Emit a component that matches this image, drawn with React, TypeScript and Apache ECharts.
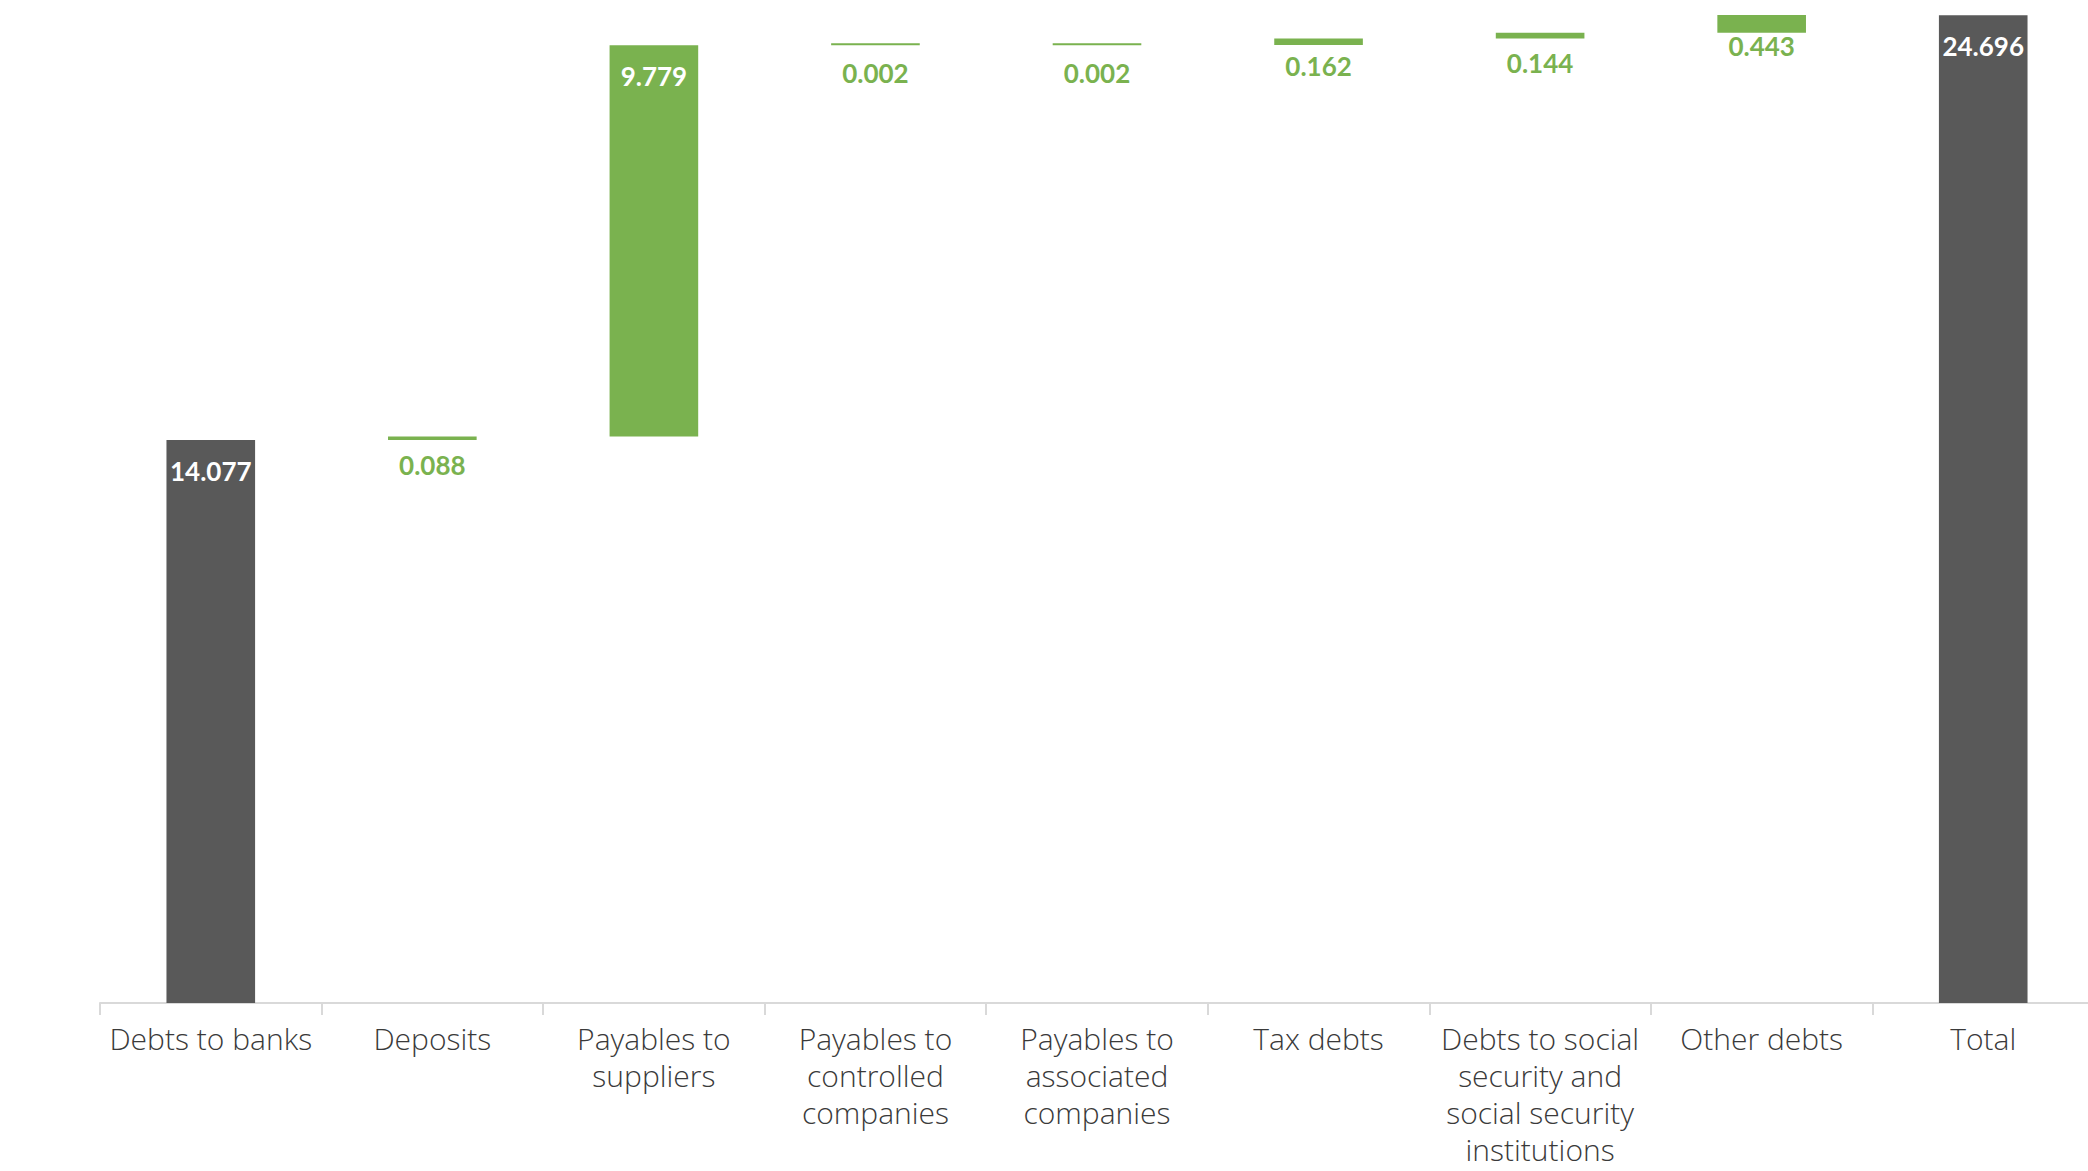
import React, { useEffect, useRef } from "react";
import * as echarts from "echarts";

const categories = [
  "Debts to banks",
  "Deposits",
  "Payables to\nsuppliers",
  "Payables to\ncontrolled\ncompanies",
  "Payables to\nassociated\ncompanies",
  "Tax debts",
  "Debts to social\nsecurity and\nsocial security\ninstitutions",
  "Other debts",
  "Total",
];
// null = not a total column
const totalValues: (number | null)[] = [14.077, null, null, null, null, null, null, null, 24.696];
const changeValues: (number | null)[] = [null, 0.088, 9.779, 0.002, 0.002, 0.162, 0.144, 0.443, null];

// label gap below small bars (style only)
const labelGap = [0, 12, 18, 15, 15, 8, 11, 0, 0];

const DARK = "#595959";
const GREEN = "#7AB24F";
const FONT = "Lato, 'Open Sans', sans-serif";
const CAT_FONT = "'Open Sans', Lato, sans-serif";

export default function App() {
  const ref = useRef<HTMLDivElement>(null);
  useEffect(() => {
    if (!ref.current) return;
    const chart = echarts.init(ref.current, undefined, { renderer: "svg" });
    const base: number[] = [];
    let running = 0;
    categories.forEach((_, i) => {
      if (totalValues[i] !== null) {
        base.push(0);
        running = totalValues[i] as number;
      } else {
        base.push(running);
        running += changeValues[i] as number;
      }
    });
    const greenData = changeValues.map((v, i) => {
      if (v === null) return "-";
      const big = v > 1;
      return {
        value: v,
        label: big
          ? { position: "insideTop", distance: labelGap[i], color: "#ffffff" }
          : { position: "bottom", distance: labelGap[i], color: GREEN },
      };
    });
    chart.setOption({
      animation: false,
      textStyle: { fontFamily: FONT },
      grid: { left: 100, top: 3, width: 1994, bottom: 168 },
      xAxis: {
        type: "category",
        data: categories,
        boundaryGap: true,
        axisLine: { lineStyle: { color: "#d9d9d9", width: 2 } },
        axisTick: { show: true, length: 12, lineStyle: { color: "#d9d9d9", width: 2 } },
        axisLabel: {
          interval: 0,
          color: "#3a3a3a",
          fontSize: 30,
          fontWeight: 300,
          lineHeight: 37,
          margin: 17,
          fontFamily: CAT_FONT,
        },
      },
      yAxis: {
        type: "value",
        min: 0,
        max: 25,
        show: false,
        splitLine: { show: false },
      },
      series: [
        {
          type: "bar",
          stack: "w",
          data: base,
          barWidth: "40%",
          itemStyle: { color: "transparent" },
          silent: true,
        },
        {
          type: "bar",
          stack: "w",
          data: totalValues.map((v) => (v === null ? "-" : v)),
          barWidth: "40%",
          itemStyle: { color: DARK },
          label: {
            show: true,
            position: "insideTop",
            distance: 18,
            color: "#ffffff",
            fontSize: 26,
            fontWeight: "bold",
            fontFamily: FONT,
            formatter: (p: any) => Number(p.value).toFixed(3),
          },
        },
        {
          type: "bar",
          stack: "w",
          data: greenData,
          barWidth: "40%",
          barMinHeight: 2,
          itemStyle: { color: GREEN },
          label: {
            show: true,
            fontSize: 26,
            fontWeight: "bold",
            fontFamily: FONT,
            formatter: (p: any) => Number(p.value).toFixed(3),
          },
        },
      ],
    });
    return () => chart.dispose();
  }, []);
  return (
    <div
      style={{
        position: "fixed",
        left: 0,
        top: 0,
        width: 2088,
        height: 1171,
        overflow: "hidden",
        background: "#ffffff",
      }}
    >
      <div ref={ref} style={{ width: 2120, height: 1171 }} />
    </div>
  );
}
